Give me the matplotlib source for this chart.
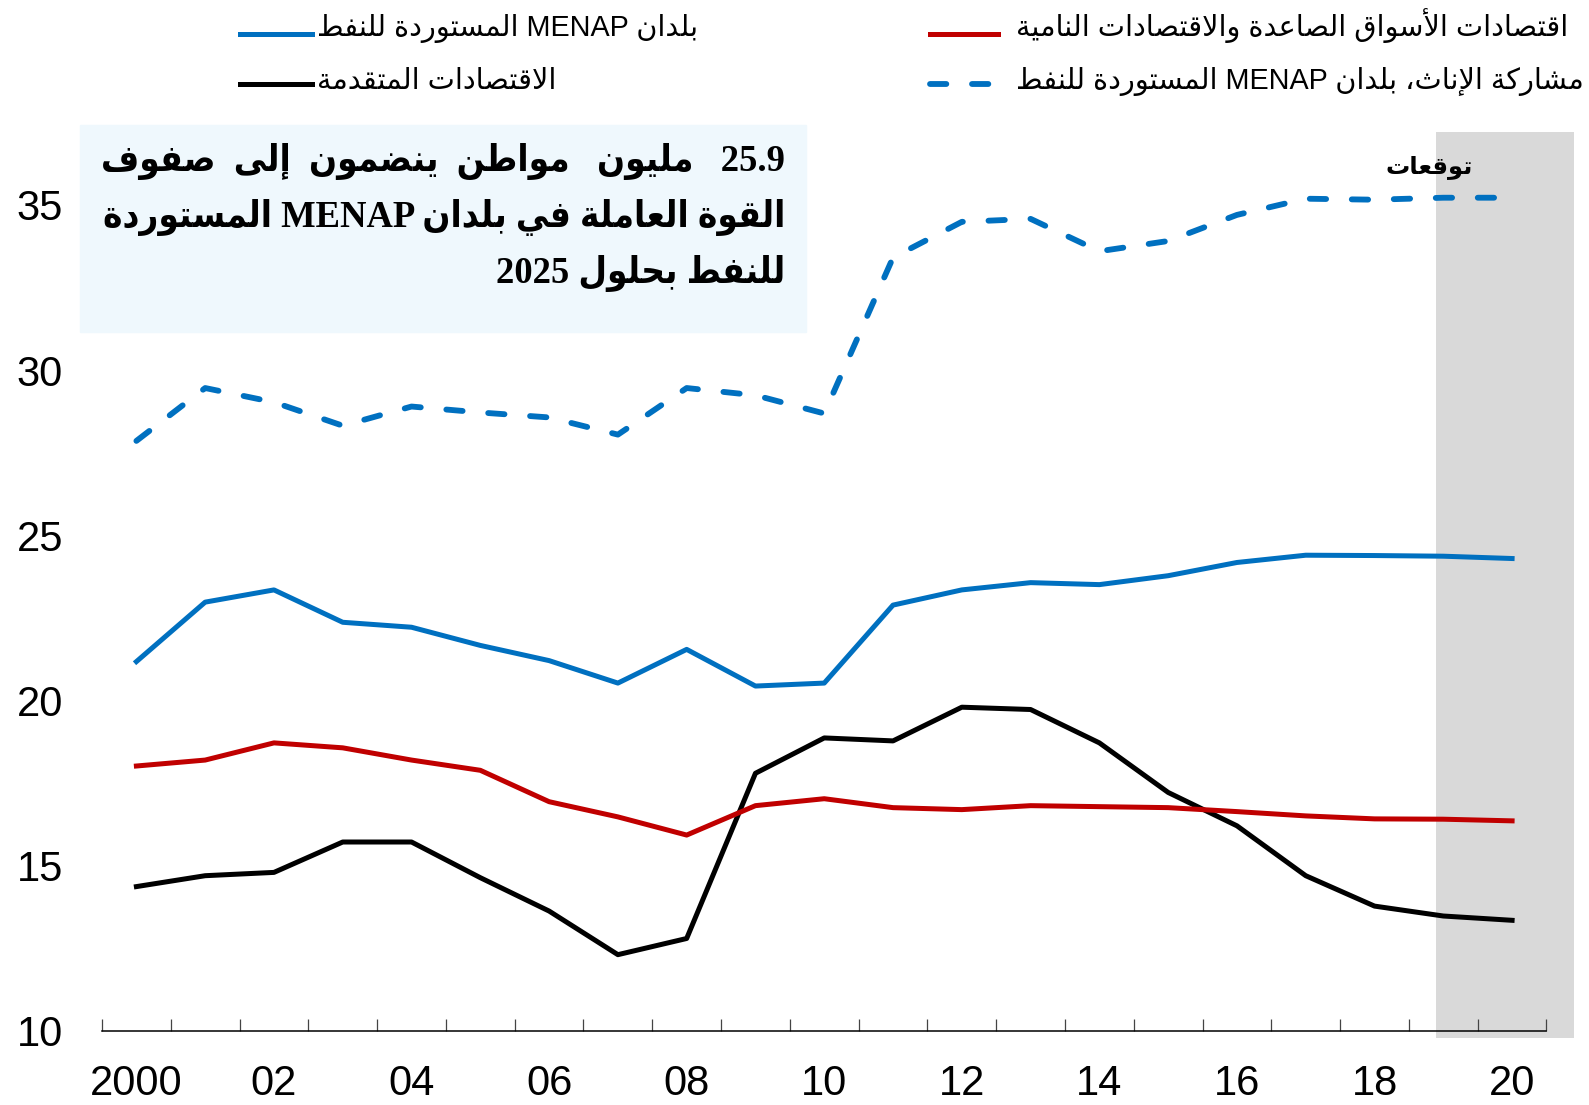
import re

import matplotlib
matplotlib.use('Agg')
import matplotlib.pyplot as plt
from matplotlib import font_manager
from matplotlib.lines import Line2D
from matplotlib.patches import Rectangle
import numpy as np

years = np.arange(2000, 2021)

# labour force participation-type series
menap_oi = [21.18, 22.98, 23.35, 22.37, 22.22, 21.67, 21.21, 20.53, 21.55, 20.44, 20.53,
            22.89, 23.35, 23.57, 23.51, 23.78, 24.18, 24.40, 24.39, 24.37, 24.30]
emde = [18.02, 18.20, 18.72, 18.57, 18.20, 17.89, 16.94, 16.48, 15.93, 16.82, 17.03,
        16.76, 16.70, 16.82, 16.79, 16.76, 16.64, 16.51, 16.42, 16.41, 16.36]
advanced = [14.37, 14.70, 14.80, 15.72, 15.72, 14.64, 13.63, 12.31, 12.80, 17.80, 18.87,
            18.78, 19.80, 19.73, 18.72, 17.22, 16.21, 14.70, 13.78, 13.48, 13.35]
female_menap = [27.86, 29.46, 29.03, 28.32, 28.90, 28.72, 28.57, 28.05, 29.46, 29.24, 28.69,
                33.41, 34.49, 34.58, 33.60, 33.91, 34.70, 35.19, 35.16, 35.22, 35.22]

xtick_years = np.arange(2000, 2021, 2)
xtick_labels = ['2000', '02', '04', '06', '08', '10', '12', '14', '16', '18', '20']
yticks = [10, 15, 20, 25, 30, 35]
forecast_start = 2018.9

lab_menap = 'بلدان MENAP المستوردة للنفط'
lab_adv = 'الاقتصادات المتقدمة'
lab_emde = 'اقتصادات الأسواق الصاعدة والاقتصادات النامية'
lab_female = 'مشاركة الإناث، بلدان MENAP المستوردة للنفط'
title_lines = ['25.9 مليون مواطن ينضمون إلى صفوف',
               'القوة العاملة في بلدان MENAP المستوردة',
               'للنفط بحلول 2025']
forecast_label = 'توقعات'

BLUE = '#0070C0'
RED = '#C00000'

# --- tiny arabic shaper: matplotlib has no text shaping, so use presentation forms ---
_forms = [('ء', 0xFE80, 1), ('آ', 0xFE81, 2), ('أ', 0xFE83, 2), ('ؤ', 0xFE85, 2),
          ('إ', 0xFE87, 2), ('ئ', 0xFE89, 4), ('ا', 0xFE8D, 2), ('ب', 0xFE8F, 4),
          ('ة', 0xFE93, 2), ('ت', 0xFE95, 4), ('ث', 0xFE99, 4), ('ج', 0xFE9D, 4),
          ('ح', 0xFEA1, 4), ('خ', 0xFEA5, 4), ('د', 0xFEA9, 2), ('ذ', 0xFEAB, 2),
          ('ر', 0xFEAD, 2), ('ز', 0xFEAF, 2), ('س', 0xFEB1, 4), ('ش', 0xFEB5, 4),
          ('ص', 0xFEB9, 4), ('ض', 0xFEBD, 4), ('ط', 0xFEC1, 4), ('ظ', 0xFEC5, 4),
          ('ع', 0xFEC9, 4), ('غ', 0xFECD, 4), ('ف', 0xFED1, 4), ('ق', 0xFED5, 4),
          ('ك', 0xFED9, 4), ('ل', 0xFEDD, 4), ('م', 0xFEE1, 4), ('ن', 0xFEE5, 4),
          ('ه', 0xFEE9, 4), ('و', 0xFEED, 2), ('ى', 0xFEEF, 2), ('ي', 0xFEF1, 4)]
FORMS = {c: (b, n) for c, b, n in _forms}
LAM_ALEF = {'آ': 0xFEF5, 'أ': 0xFEF7, 'إ': 0xFEF9, 'ا': 0xFEFB}


def _joins(c):
    return c in FORMS and FORMS[c][1] > 1


def _dual(c):
    return c in FORMS and FORMS[c][1] == 4


def shape(s):
    out = []
    i = 0
    while i < len(s):
        c = s[i]
        if c not in FORMS:
            out.append(c)
            i += 1
            continue
        prev = s[i - 1] if i > 0 else ''
        link_prev = _dual(prev) and _joins(c)
        if c == 'ل' and i + 1 < len(s) and s[i + 1] in LAM_ALEF:
            out.append(chr(LAM_ALEF[s[i + 1]] + (1 if link_prev else 0)))
            i += 2
            continue
        nxt = s[i + 1] if i + 1 < len(s) else ''
        link_next = _dual(c) and _joins(nxt)
        base, n = FORMS[c]
        if n == 1:
            form = 0
        elif link_prev and link_next:
            form = 3
        elif link_prev:
            form = 1
        elif link_next:
            form = 2
        else:
            form = 0
        out.append(chr(base + form))
        i += 1
    return ''.join(out)


def ar(s):
    v = shape(s)[::-1]
    return re.sub(r'[A-Za-z0-9.]+', lambda m: m.group(0)[::-1], v)


def width(fig, txt):
    return txt.get_window_extent(fig.canvas.get_renderer()).width


def fit_size(fig, txt, target_px):
    # size that makes a text as wide as in the reference
    return txt.get_fontsize() * target_px / width(fig, txt)


def justify(fig, txt, logical, target_px):
    # widen the word gaps of an arabic line until it fills the box
    words = logical.split(' ')
    gaps = [1] * (len(words) - 1)
    k = 0
    while True:
        trial = gaps[:]
        trial[k % len(trial)] += 1
        s = words[0] + ''.join(' ' * g + w for g, w in zip(trial, words[1:]))
        txt.set_text(ar(s))
        if width(fig, txt) > target_px:
            break
        gaps = trial
        k += 1
    s = words[0] + ''.join(' ' * g + w for g, w in zip(gaps, words[1:]))
    txt.set_text(ar(s))


avail = {f.name for f in font_manager.fontManager.ttflist}
narrow = 'Liberation Sans Narrow' in avail

W, H = 1589, 1105
fig = plt.figure(figsize=(W / 100, H / 100), dpi=100)
ax = fig.add_axes([102 / W, 1 - 1037.6 / H, 1472 / W, 905.3 / H])

ax.axvspan(forecast_start, 2020.9, color='#D9D9D9', lw=0, zorder=0)

styles = [
    (menap_oi, lab_menap, dict(color=BLUE, lw=3.6)),
    (advanced, lab_adv, dict(color='black', lw=3.6)),
    (emde, lab_emde, dict(color=RED, lw=3.6)),
    (female_menap, lab_female, dict(color=BLUE, lw=4.2, dashes=(2.8, 4.4), dash_capstyle='round')),
]
for vals, lab, st in styles:
    ax.plot(years, vals, label=ar(lab), **st)

ax.set_xlim(1999.5, 2020.9)
ax.set_ylim(9.8, 37.2)

for s in ['top', 'right', 'left']:
    ax.spines[s].set_visible(False)
ax.spines['bottom'].set_position(('data', 10))
ax.spines['bottom'].set_bounds(1999.5, 2020.5)
ax.spines['bottom'].set_linewidth(1.1)

ax.set_xticks(xtick_years)
if narrow:
    ax.set_xticklabels(xtick_labels, fontfamily='Liberation Sans Narrow', fontsize=34)
else:
    ax.set_xticklabels(xtick_labels, fontfamily='Liberation Sans', fontsize=30)
ax.set_xticks(np.arange(1999.5, 2021, 1), minor=True)
ax.tick_params(axis='x', which='major', length=0, pad=24)
ax.tick_params(axis='x', which='minor', direction='in', length=8.6, width=0.9, color='#444444')
ax.set_yticks(yticks)
ax.set_yticklabels([str(v) for v in yticks], fontfamily='Liberation Sans', fontsize=30)
ax.tick_params(axis='y', length=0, pad=28)

# text box
fig.patches.append(Rectangle((80 / W, 1 - 332 / H), 726 / W, 207 / H,
                             transform=fig.transFigure, color='#EFF8FD', zorder=5))
title_txt = []
for k, line in enumerate(title_lines):
    t = fig.text(785 / W, 1 - (162 + 56 * k) / H, ar(line), ha='right', va='center',
                 family=['Liberation Serif', 'DejaVu Sans'], weight='bold',
                 stretch='condensed', fontsize=25, zorder=6)
    title_txt.append(t)
title_size = fit_size(fig, title_txt[1], 684)
for t in title_txt:
    t.set_fontsize(title_size)
justify(fig, title_txt[0], title_lines[0], 684)

fig.text(1429 / W, 1 - 167 / H, ar(forecast_label), ha='center', va='center',
         family=['DejaVu Sans'], weight='bold', fontsize=17.5)

# legend, two columns laid out like the original
leg_pos = [(240, 312, 34, 317, 36), (240, 312, 84, 317, 89),
           (930, 998, 34, 1016, 36), (930, 998, 84, 1016, 89)]
leg_txt = []
for (vals, lab, st), (x0, x1, yl, xt, yt) in zip(styles, leg_pos):
    fig.add_artist(Line2D([x0 / W, x1 / W], [1 - yl / H, 1 - yl / H],
                          transform=fig.transFigure, **st))
    leg_txt.append(fig.text(xt / W, 1 - yt / H, ar(lab), ha='left', va='baseline',
                            family=['Liberation Sans', 'DejaVu Sans'], fontsize=21))
leg_size = min(fit_size(fig, leg_txt[2], 565), fit_size(fig, leg_txt[3], 566))
for t in leg_txt:
    t.set_fontsize(leg_size)

fig.savefig('out.png', dpi=100)
